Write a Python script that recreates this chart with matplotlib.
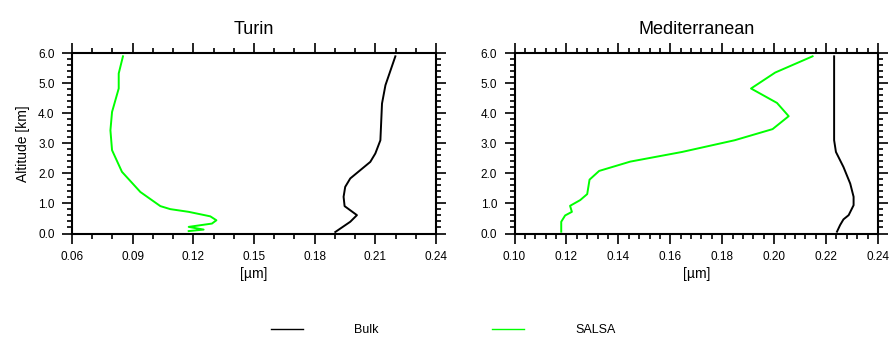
import matplotlib
matplotlib.use("Agg")
import matplotlib.pyplot as plt
from matplotlib.ticker import MultipleLocator, FormatStrFormatter
from matplotlib.lines import Line2D

plt.rcParams['font.family'] = ['Liberation Sans', 'DejaVu Sans']

# Turin
turin_salsa_x = [0.1177, 0.1251, 0.1177, 0.1292, 0.1314, 0.1284, 0.1177, 0.1086, 0.1037,
                 0.0938, 0.0847, 0.0798, 0.0790, 0.0798, 0.0831, 0.0831, 0.0852]
turin_salsa_alt = [0.08, 0.13, 0.22, 0.33, 0.44, 0.57, 0.72, 0.81, 0.91,
                   1.38, 2.05, 2.77, 3.43, 4.04, 4.82, 5.32, 5.89]
turin_bulk_x = [0.1902, 0.1976, 0.2009, 0.1948, 0.1943, 0.1951, 0.1976, 0.2075, 0.2100,
                0.2125, 0.2133, 0.2150, 0.2199]
turin_bulk_alt = [0.05, 0.39, 0.61, 0.91, 1.22, 1.55, 1.83, 2.38, 2.66,
                  3.10, 4.32, 4.93, 5.89]

# Mediterranean
med_salsa_x = [0.1180, 0.1180, 0.1195, 0.1221, 0.1214, 0.1253, 0.1280, 0.1289, 0.1326,
               0.1446, 0.1645, 0.1848, 0.1994, 0.2056, 0.2011, 0.1911, 0.2004, 0.2148]
med_salsa_alt = [0.06, 0.39, 0.60, 0.72, 0.92, 1.11, 1.31, 1.79, 2.08,
                 2.39, 2.71, 3.10, 3.47, 3.90, 4.34, 4.82, 5.35, 5.89]
med_bulk_x = [0.2242, 0.2254, 0.2267, 0.2287, 0.2306, 0.2306, 0.2293, 0.2267, 0.2238,
              0.2231, 0.2231]
med_bulk_alt = [0.06, 0.28, 0.47, 0.61, 0.94, 1.22, 1.66, 2.21, 2.71, 3.10, 5.89]

titles = ["Turin", "Mediterranean"]
xlims = [(0.06, 0.24), (0.10, 0.24)]
xmajor = [0.03, 0.02]
xminor = [0.01, 0.004]

fig = plt.figure(figsize=(8.9, 3.37), dpi=100)
W, H = 890, 337
axes = [fig.add_axes([72 / W, 1 - 233.5 / H, 364 / W, 180.5 / H]),
        fig.add_axes([514.5 / W, 1 - 233.5 / H, 363.5 / W, 180.5 / H])]

data = [(turin_bulk_x, turin_bulk_alt, turin_salsa_x, turin_salsa_alt),
        (med_bulk_x, med_bulk_alt, med_salsa_x, med_salsa_alt)]

for i, ax in enumerate(axes):
    bx, ba, sx, sa = data[i]
    ax.plot(bx, ba, color='black', lw=1.4, label='Bulk')
    ax.plot(sx, sa, color='#00ff00', lw=1.4, label='SALSA')
    ax.set_xlim(*xlims[i])
    ax.set_ylim(0, 6)
    ax.xaxis.set_major_locator(MultipleLocator(xmajor[i]))
    ax.xaxis.set_minor_locator(MultipleLocator(xminor[i]))
    ax.yaxis.set_major_locator(MultipleLocator(1.0))
    ax.yaxis.set_minor_locator(MultipleLocator(0.2))
    ax.xaxis.set_major_formatter(FormatStrFormatter('%.2f'))
    ax.yaxis.set_major_formatter(FormatStrFormatter('%.1f'))
    ax.tick_params(which='both', direction='out', top=True, right=True,
                   labelsize=8.5, width=1.2)
    ax.tick_params(which='major', length=7.5, pad=5)
    ax.tick_params(which='minor', length=3.8)
    for s in ax.spines.values():
        s.set_linewidth(1.5)
    ax.set_title(titles[i], fontsize=13, pad=14)
    ax.set_xlabel('[\u00b5m]', fontsize=10, labelpad=3)
axes[0].set_ylabel('Altitude [km]', fontsize=10, labelpad=6)

handles = [Line2D([], [], color='black', lw=1.0), Line2D([], [], color='#00ff00', lw=1.0)]
fig.legend(handles, ['Bulk', 'SALSA'], loc='center', bbox_to_anchor=(0.498, 1 - 330 / H),
           ncol=2, frameon=False, fontsize=9, handlelength=2.56, handletextpad=4.1,
           columnspacing=9.1)

fig.savefig('out.png', dpi=100)
